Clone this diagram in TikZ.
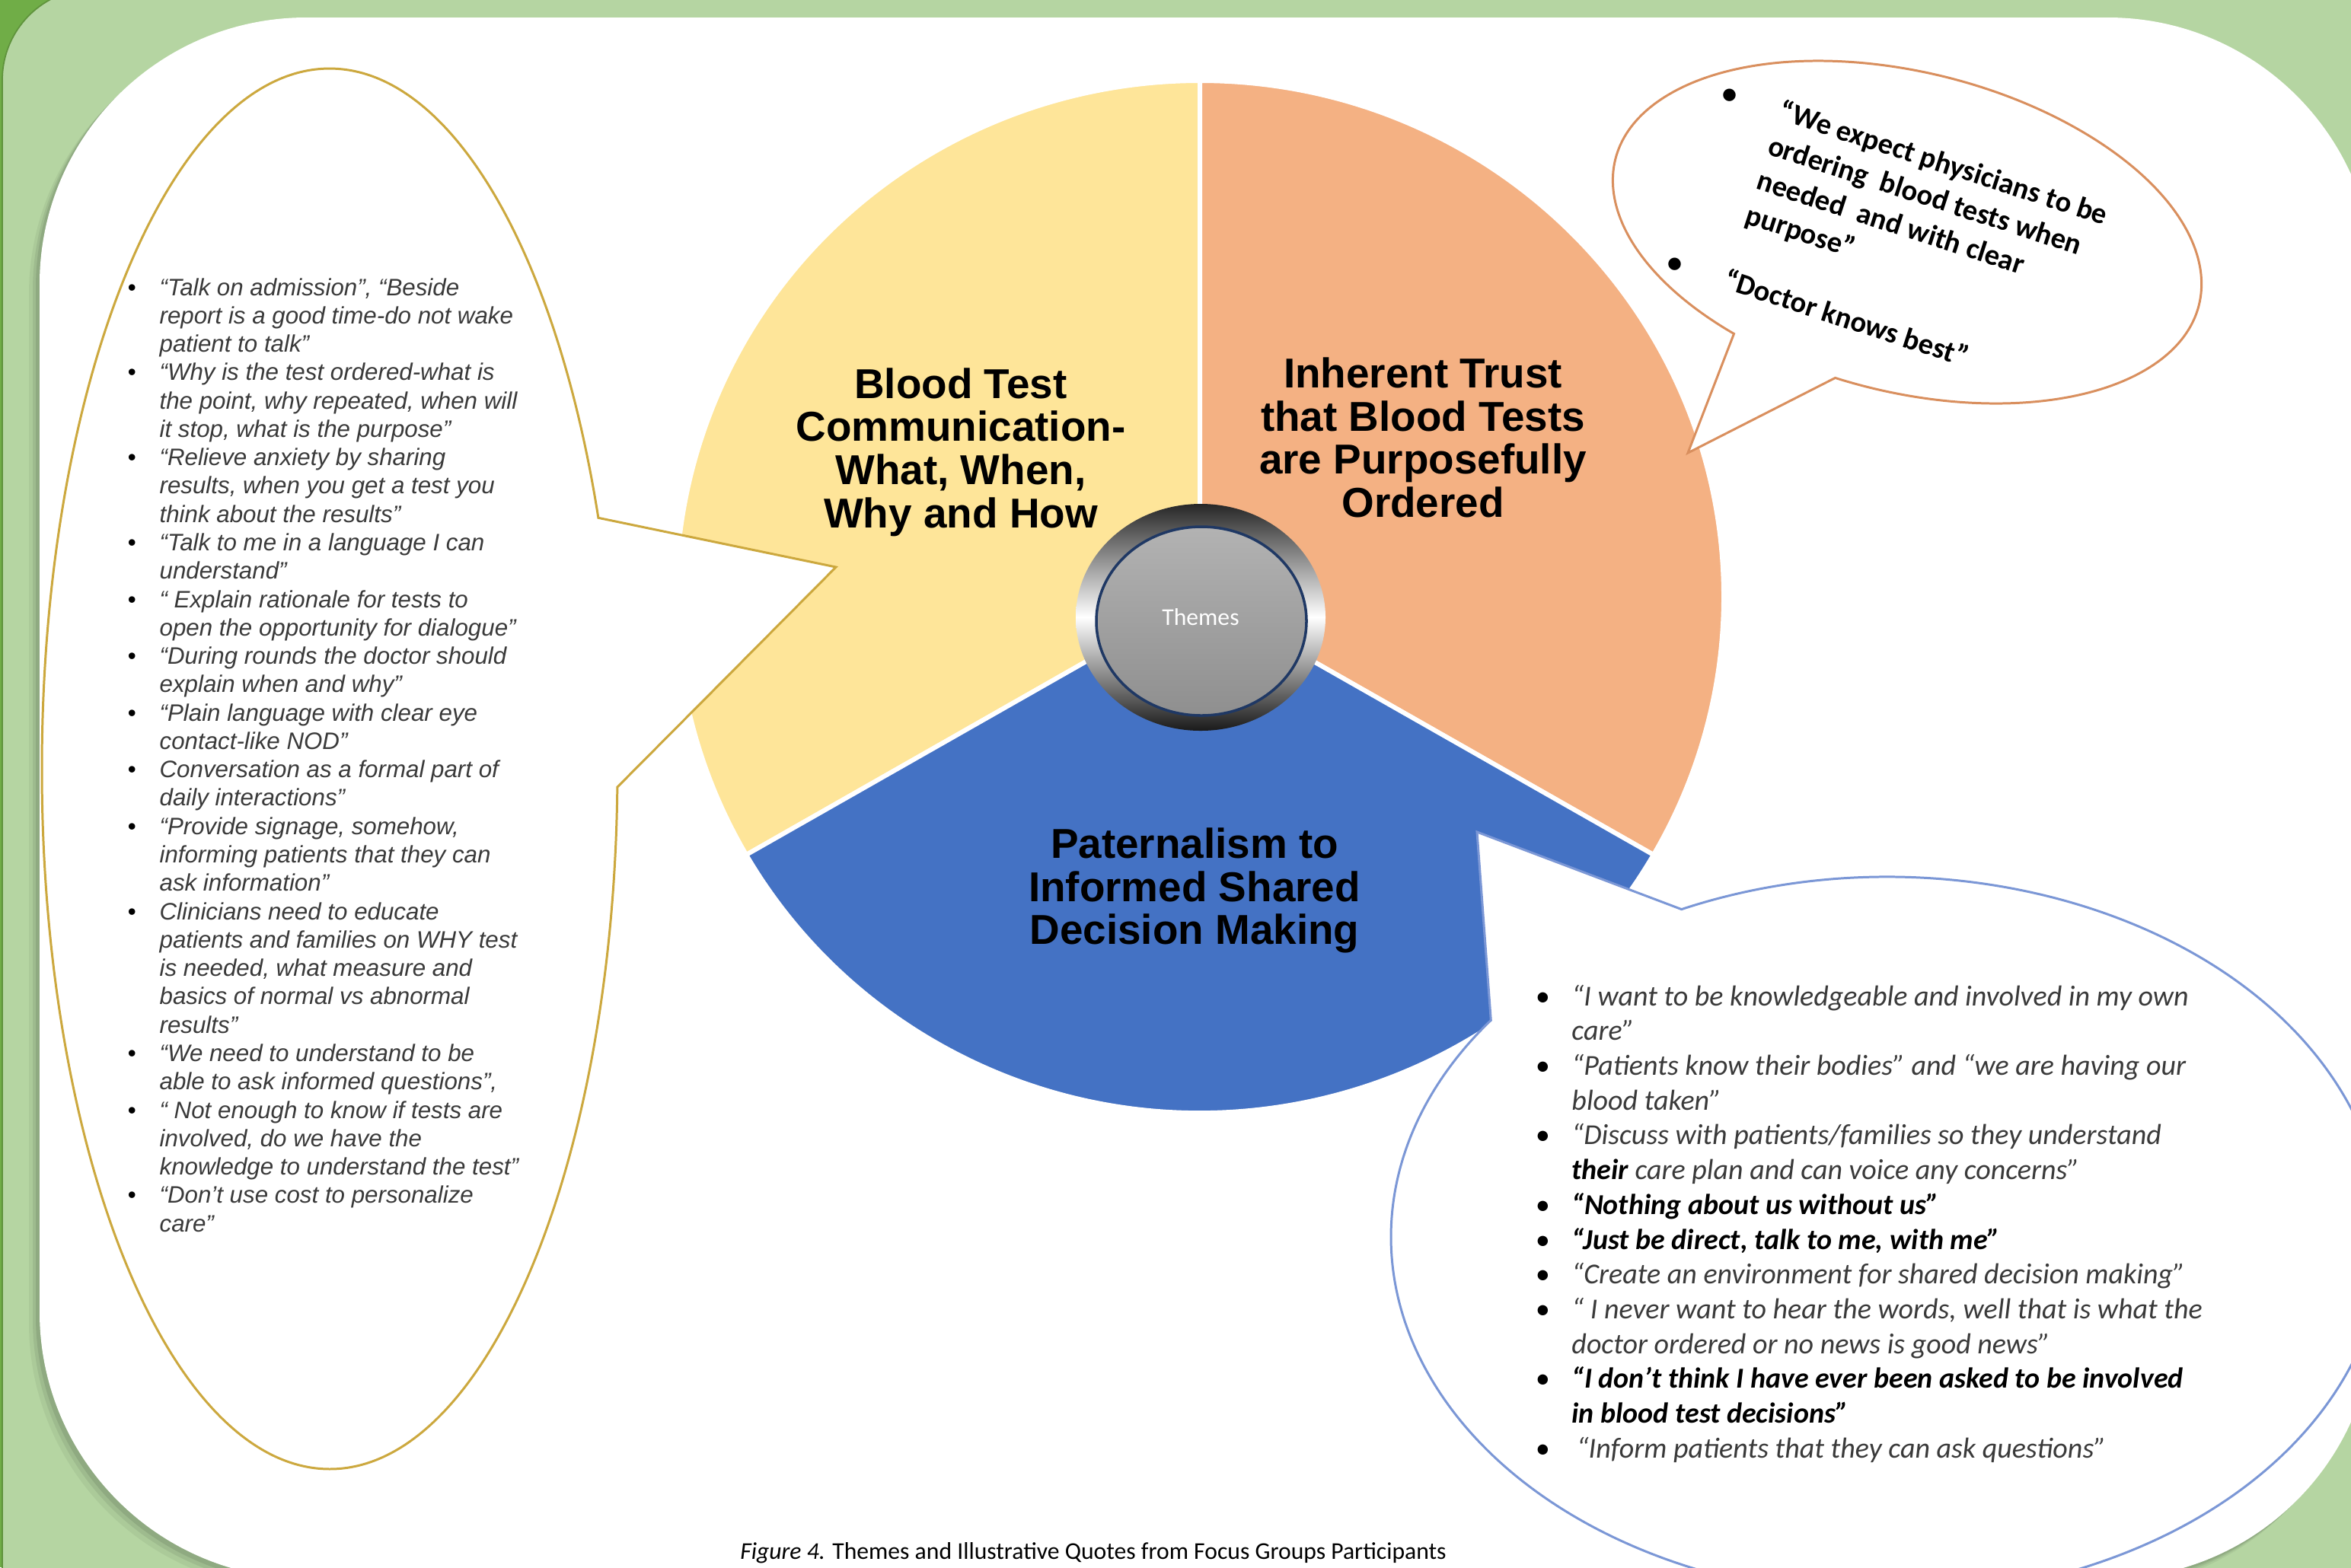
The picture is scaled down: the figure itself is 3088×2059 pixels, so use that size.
\documentclass[tikz,border=0pt]{standalone}
\usepackage{fontspec}
\setmainfont{Liberation Sans}
\newfontfamily\calibri{Carlito}
\usepackage{xcolor}
\usepackage{tikz}
\usetikzlibrary{calc, positioning}

\definecolor{framedark}{HTML}{70AD47}
\definecolor{framelight}{HTML}{B5D5A2}
\definecolor{slyellow}{HTML}{FEE599}
\definecolor{slorange}{HTML}{F4B183}
\definecolor{slblue}{HTML}{4472C4}
\definecolor{goldline}{HTML}{CCA83E}
\definecolor{orangeline}{HTML}{D98F5E}
\definecolor{blueline}{HTML}{7B97D6}
\definecolor{quotegray}{HTML}{3A3A3A}
\definecolor{navy}{HTML}{1F3864}

\tikzset{
    slice/.style={fill=#1, draw=white, line width=1.7pt, line join=round},
    bubble/.style={fill=white, draw=#1, line width=0.85pt},
    theme/.style={font=\fontsize{15.6}{16.1}\selectfont\bfseries, align=center, inner sep=0pt},
}

\begin{document}
\begin{tikzpicture}[x=0.01cm, y=-0.01cm]
        \useasboundingbox (0,0) rectangle (3088,2059);
        \clip (0,0) rectangle (3088,2059);

        % frame
        \fill[framedark] (0,0) rectangle (3088,2059);
        \path[fill=framelight, draw=framedark!85!black, line width=0.5pt, rounded corners=1.2cm] (3,-15) rectangle (3300,2300);
        \foreach \s/\o in {14/0.05, 9/0.07, 5/0.09}
        {
            \path[fill=black, opacity=\o, rounded corners=3.5cm] (52-\s,23+\s) rectangle (3119-\s,2074+\s);
        }
        \path[fill=white, rounded corners=3.5cm] (52,23) rectangle (3119,2074);

        % pie
        \coordinate (pc) at (1576,784);
        \path[slice=slyellow] (pc) -- ($(pc)+(150:688 and 678)$) arc[start angle=150, end angle=270, x radius=688, y radius=678] -- cycle;
        \path[slice=slorange] (pc) -- ($(pc)+(270:688 and 678)$) arc[start angle=270, end angle=390, x radius=688, y radius=678] -- cycle;
        \path[slice=slblue] (pc) -- ($(pc)+(30:688 and 678)$) arc[start angle=30, end angle=150, x radius=688, y radius=678] -- cycle;

        % bubbles
        \coordinate (lc) at (433,1010);
        \coordinate (ltip) at (1098,745);
        \path[bubble=goldline] ($(lc)+(1.5:378 and 920)$) arc[start angle=1.5, end angle=339, x radius=378, y radius=920] -- (ltip) -- cycle;

        \coordinate (tbc) at (2505,305);
        \coordinate (ttip) at (2217,595);
        \begin{scope}[shift={(tbc)}, rotate=-14]
            \path[bubble=orangeline] (118.5:395 and 210) arc[start angle=118.5, end angle=456.6, x radius=395, y radius=210] -- (ttip) -- cycle;
        \end{scope}

        \coordinate (bc) at (2479,1625);
        \coordinate (btip) at (1940,1093);
        \path[bubble=blueline] ($(bc)+(245.5:652 and 473)$) arc[start angle=245.5, end angle=577, x radius=652, y radius=473] -- (btip) -- cycle;

        % themes button
        \coordinate (tc) at (1577,811);
        \path[top color=black!85, bottom color=black!90, middle color=white] (tc) ellipse[x radius=164, y radius=149];
        \path[draw=navy, line width=1pt, top color=black!30, bottom color=black!44] ($(tc)+(1,5)$) ellipse[x radius=138, y radius=124];
        \node[text=white, font=\calibri\fontsize{9}{10}\selectfont] (themes) at (tc) {Themes};

        % slice labels
        \node[theme] (commlabel) at (1262,594) {Blood Test\\Communication-\\What, When,\\Why and How};
        \node[theme] (trustlabel) at (1869,575) {Inherent Trust\\that Blood Tests\\are Purposefully\\Ordered};
        \node[theme] (patlabel) at (1569,1170) {Paternalism to\\Informed Shared\\Decision Making};

        % quotes
        \node[anchor=base west, inner sep=0pt, text=quotegray, font=\fontsize{8.9}{10.6}\selectfont\itshape] (leftquotes) at (167,388) {%
            \begin{tabular}[t]{@{}l@{\hspace{8.8pt}}l@{}}
                \textcolor{black}{\textbullet} & “Talk on admission”, “Beside\\
                & report is a good time-do not wake\\
                & patient to talk”\\
                \textcolor{black}{\textbullet} & “Why is the test ordered-what is\\
                & the point, why repeated, when will\\
                & it stop, what is the purpose”\\
                \textcolor{black}{\textbullet} & “Relieve anxiety by sharing\\
                & results, when you get a test you\\
                & think about the results”\\
                \textcolor{black}{\textbullet} & “Talk to me in a language I can\\
                & understand”\\
                \textcolor{black}{\textbullet} & “ Explain rationale for tests to\\
                & open the opportunity for dialogue”\\
                \textcolor{black}{\textbullet} & “During rounds the doctor should\\
                & explain when and why”\\
                \textcolor{black}{\textbullet} & “Plain language with clear eye\\
                & contact-like NOD”\\
                \textcolor{black}{\textbullet} & Conversation as a formal part of\\
                & daily interactions”\\
                \textcolor{black}{\textbullet} & “Provide signage, somehow,\\
                & informing patients that they can\\
                & ask information”\\
                \textcolor{black}{\textbullet} & Clinicians need to educate\\
                & patients and families on WHY test\\
                & is needed, what measure and\\
                & basics of normal vs abnormal\\
                & results”\\
                \textcolor{black}{\textbullet} & “We need to understand to be\\
                & able to ask informed questions”,\\
                \textcolor{black}{\textbullet} & “ Not enough to know if tests are\\
                & involved, do we have the\\
                & knowledge to understand the test”\\
                \textcolor{black}{\textbullet} & “Don’t use cost to personalize\\
                & care”
            \end{tabular}};

        \node[anchor=base west, inner sep=0pt, rotate=-18, font=\calibri\fontsize{11}{13.6}\selectfont\bfseries] (topquotes) at (2259,132) {%
            \begin{tabular}[t]{@{}l@{\hspace{17pt}}l@{}}
                \textbullet & “We expect physicians to be\\
                & ordering\ \ blood tests when\\
                & needed\ \ and with clear\\
                & purpose”\\[12pt]
                \textbullet & “Doctor knows best”
            \end{tabular}};

        \node[anchor=base west, inner sep=0pt, text=quotegray, font=\calibri\fontsize{10.8}{13}\selectfont\itshape] (rightquotes) at (2016,1321) {%
            \begin{tabular}[t]{@{}l@{\hspace{8.2pt}}l@{}}
                \textcolor{black}{\textbullet} & “I want to be knowledgeable and involved in my own\\
                & care”\\
                \textcolor{black}{\textbullet} & “Patients know their bodies” and “we are having our\\
                & blood taken”\\
                \textcolor{black}{\textbullet} & “Discuss with patients/families so they understand\\
                & \textcolor{black}{\bfseries their} care plan and can voice any concerns”\\
                \textcolor{black}{\textbullet} & \textcolor{black}{\bfseries “Nothing about us without us”}\\
                \textcolor{black}{\textbullet} & \textcolor{black}{\bfseries “Just be direct, talk to me, with me”}\\
                \textcolor{black}{\textbullet} & “Create an environment for shared decision making”\\
                \textcolor{black}{\textbullet} & “ I never want to hear the words, well that is what the\\
                & doctor ordered or no news is good news”\\
                \textcolor{black}{\textbullet} & \textcolor{black}{\bfseries “I don’t think I have ever been asked to be involved}\\
                & \textcolor{black}{\bfseries in blood test decisions”}\\
                \textcolor{black}{\textbullet} & \,“Inform patients that they can ask questions”
            \end{tabular}};

        % caption
        \node[font=\calibri\fontsize{9}{11}\selectfont] (caption) at (1436,2040) {\textit{Figure 4.} Themes and Illustrative Quotes from Focus Groups Participants};
\end{tikzpicture}
\end{document}
